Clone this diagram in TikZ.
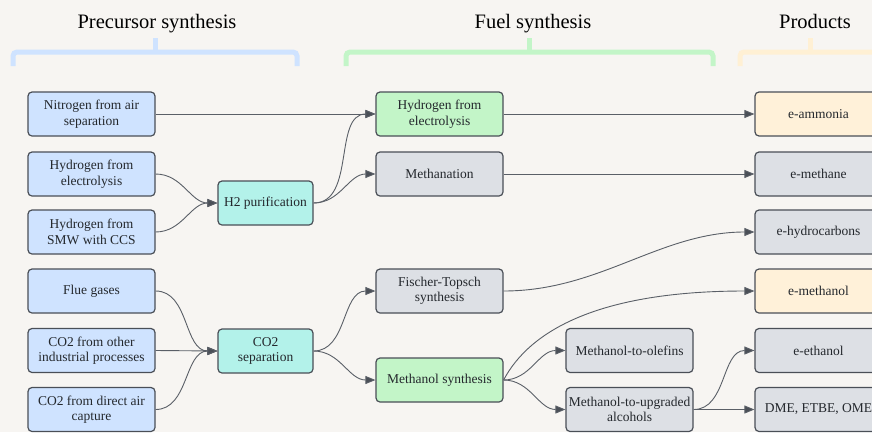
\documentclass[tikz,border=0pt]{standalone}
\usepackage{fontspec}
\setmainfont{Liberation Serif}
\usetikzlibrary{arrows.meta}
\definecolor{bg}{HTML}{F7F5F2}
\definecolor{edge}{HTML}{4A4F57}
\definecolor{link}{HTML}{5A5F67}
\definecolor{txt}{HTML}{24282D}
\definecolor{fblue}{HTML}{CFE3FF}
\definecolor{fgreen}{HTML}{C3F5C8}
\definecolor{fteal}{HTML}{B3F2EA}
\definecolor{fgray}{HTML}{DDE0E5}
\definecolor{fyellow}{HTML}{FFF1D9}
\definecolor{brblue}{HTML}{CFE3FF}
\definecolor{brgreen}{HTML}{C3F5C8}
\definecolor{bryellow}{HTML}{FFF0D4}
\begin{document}
\begin{tikzpicture}[x=1pt,y=-1pt,
  box/.style={draw=edge, line width=1.2pt, rounded corners=4pt,
    minimum width=127pt, minimum height=44pt, align=center,
    font=\fontsize{13.5}{15.5}\selectfont, text=txt, inner sep=0.5pt},
  bluebox/.style={box, fill=fblue},
  greenbox/.style={box, fill=fgreen},
  tealbox/.style={box, fill=fteal, minimum width=95pt},
  graybox/.style={box, fill=fgray},
  yellowbox/.style={box, fill=fyellow},
  arr/.style={draw=link, line width=0.9pt, -{Triangle[length=10pt,width=8pt,fill=edge]}},
  hdr/.style={anchor=base, font=\fontsize{20.5}{23}\selectfont, text=black},
  brace/.style={line width=5pt, rounded corners=4pt}]
\useasboundingbox (0,0) rectangle (872,432);
\clip (0,0) rectangle (872,432);
\fill[bg] (0,0) rectangle (872,432);

% headers
\node[hdr] (h1) at (157,28) {Precursor synthesis};
\node[hdr] (h2) at (533,28) {Fuel synthesis};
\node[hdr] (h3) at (815,28) {Products};

% brackets
\draw[brace, brblue] (13,66) -- (13,52) -- (297,52) -- (297,66);
\draw[brace, brblue] (155,52) -- (155,38);
\draw[brace, brgreen] (346,66) -- (346,52) -- (713,52) -- (713,66);
\draw[brace, brgreen] (529,52) -- (529,38);
\draw[brace, bryellow] (740,66) -- (740,52) -- (900,52);
\draw[brace, bryellow] (810,52) -- (810,38);

% column 1
\node[bluebox] (n2) at (91.5,114) {Nitrogen from air\\separation};
\node[bluebox] (h2e) at (91.5,174) {Hydrogen from\\electrolysis};
\node[bluebox] (smw) at (91.5,232) {Hydrogen from\\SMW with CCS};
\node[bluebox] (flue) at (91.5,291) {Flue gases};
\node[bluebox] (co2o) at (91.5,350.5) {CO2 from other\\industrial processes};
\node[bluebox] (dac) at (91.5,409.5) {CO2 from direct air\\capture};

% column 2
\node[tealbox] (h2p) at (265.5,203) {H2 purification};
\node[tealbox] (co2s) at (265.5,351) {CO2\\separation};

% column 3
\node[greenbox] (gh2) at (439.5,114) {Hydrogen from\\electrolysis};
\node[graybox] (meth) at (439.5,174) {Methanation};
\node[graybox] (ft) at (439.5,291) {Fischer-Topsch\\synthesis};
\node[greenbox] (ms) at (439.5,380) {Methanol synthesis};

% column 4
\node[graybox] (mto) at (629.5,350.5) {Methanol-to-olefins};
\node[graybox] (mtu) at (629.5,409.5) {Methanol-to-upgraded\\alcohols};

% column 5
\node[yellowbox] (amm) at (818.5,114) {e-ammonia};
\node[graybox] (eme) at (818.5,174) {e-methane};
\node[graybox] (ehc) at (818.5,232) {e-hydrocarbons};
\node[yellowbox] (emo) at (818.5,291) {e-methanol};
\node[graybox] (eet) at (818.5,350.5) {e-ethanol};
\node[graybox] (dme) at (818.5,409.5) {DME, ETBE, OME};

% connectors
\draw[arr] (n2.east) -- (gh2.west);
\draw[arr] (h2e.east) to[out=0,in=180] (h2p.west);
\draw[arr] (smw.east) to[out=0,in=180] (h2p.west);
\draw[arr] (flue.east) to[out=0,in=180] (co2s.west);
\draw[arr] (co2o.east) -- (co2s.west);
\draw[arr] (dac.east) to[out=0,in=180] (co2s.west);
\draw[arr] (h2p.east) to[out=0,in=180] (gh2.west);
\draw[arr] (h2p.east) to[out=0,in=180] (meth.west);
\draw[arr] (co2s.east) to[out=0,in=180] (ft.west);
\draw[arr] (co2s.east) to[out=0,in=180] (ms.west);
\draw[arr] (gh2.east) -- (amm.west);
\draw[arr] (meth.east) -- (eme.west);
\draw[arr] (ft.east) .. controls (600,291) and (660,232) .. (ehc.west);
\draw[arr] (ms.east) .. controls (530,330) and (600,291) .. (emo.west);
\draw[arr] (ms.east) to[out=0,in=180] (mto.west);
\draw[arr] (ms.east) to[out=0,in=180] (mtu.west);
\draw[arr] (mtu.east) to[out=0,in=180] (eet.west);
\draw[arr] (mtu.east) -- (dme.west);
\end{tikzpicture}
\end{document}
